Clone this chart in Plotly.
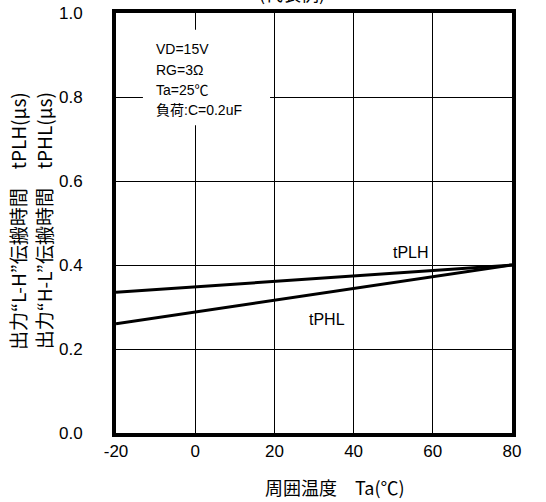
import plotly.graph_objects as go

# temperature range and propagation delay (us)
ta = [-20, 80]
t_plh = [0.335, 0.40]
t_phl = [0.26, 0.40]

x_ticks = [-20, 0, 20, 40, 60, 80]
y_ticks = [0.0, 0.2, 0.4, 0.6, 0.8, 1.0]

conditions = ["VD=15V", "RG=3Ω", "Ta=25℃", "負荷:C=0.2uF"]
y_titles = ["出力“L-H”伝搬時間　tPLH(μs)", "出力“H-L”伝搬時間　tPHL(μs)"]

font = "Liberation Sans, Arial, Noto Sans CJK JP"
font_jp = "Noto Sans CJK JP, Liberation Sans"

fig = go.Figure()
fig.add_trace(go.Scatter(x=ta, y=t_plh, mode="lines", line=dict(color="black", width=3), name="tPLH"))
fig.add_trace(go.Scatter(x=ta, y=t_phl, mode="lines", line=dict(color="black", width=3), name="tPHL"))

fig.update_layout(
    width=546, height=502,
    margin=dict(l=116, r=34, t=13, b=69),
    plot_bgcolor="white", paper_bgcolor="white",
    showlegend=False,
    font=dict(family=font, size=17, color="black"),
)
fig.update_xaxes(
    range=[-20, 80], tickvals=x_ticks, ticktext=[str(v) for v in x_ticks],
    showgrid=True, gridcolor="black", gridwidth=1,
    showline=True, linecolor="black", linewidth=4, mirror=True,
    zeroline=False, ticks="", ticklabelstandoff=0, automargin=False,
    ticklabeloverflow="allow",
)
fig.update_yaxes(
    range=[0, 1.0], tickvals=y_ticks, ticktext=["%.1f" % v for v in y_ticks],
    showgrid=True, gridcolor="black", gridwidth=1,
    showline=True, linecolor="black", linewidth=4, mirror=True,
    zeroline=False, ticks="", ticklabelstandoff=26, automargin=False,
    ticklabeloverflow="allow",
)

# axis titles as annotations
fig.add_annotation(x=0.553, y=-0.129, xref="paper", yref="paper", xanchor="center", yanchor="middle",
                   text="周囲温度　Ta(℃)", showarrow=False, font=dict(size=18, family=font_jp))
for i, t in enumerate(y_titles):
    fig.add_annotation(x=-0.2475 + i * 0.0665, y=0.505, xref="paper", yref="paper",
                       xanchor="center", yanchor="middle",
                       text=t, textangle=-90, showarrow=False, font=dict(size=19, family=font_jp))

# white box hides the grid behind the conditions
fig.add_shape(type="rect", xref="paper", yref="paper", x0=0.068, x1=0.389, y0=0.733, y1=0.96,
              fillcolor="white", line=dict(width=0), layer="above")
for i, line in enumerate(conditions):
    fig.add_annotation(x=0.097, y=0.937 - i * 0.048, xref="paper", yref="paper",
                       xanchor="left", text=line, showarrow=False, font=dict(size=14))

fig.add_annotation(x=54.5, y=0.43, text="tPLH", showarrow=False, font=dict(size=16))
fig.add_annotation(x=33.3, y=0.27, text="tPHL", showarrow=False, font=dict(size=16))
fig.add_annotation(x=0.445, y=1.012, xref="paper", yref="paper", yanchor="bottom",
                   text="(代表例)", showarrow=False, font=dict(size=18, family=font_jp))

# figure fills the whole window: drop the page's default body margin
fig.write_html("out.html", config={"displayModeBar": False},
               post_script="document.body.style.margin='0';")
